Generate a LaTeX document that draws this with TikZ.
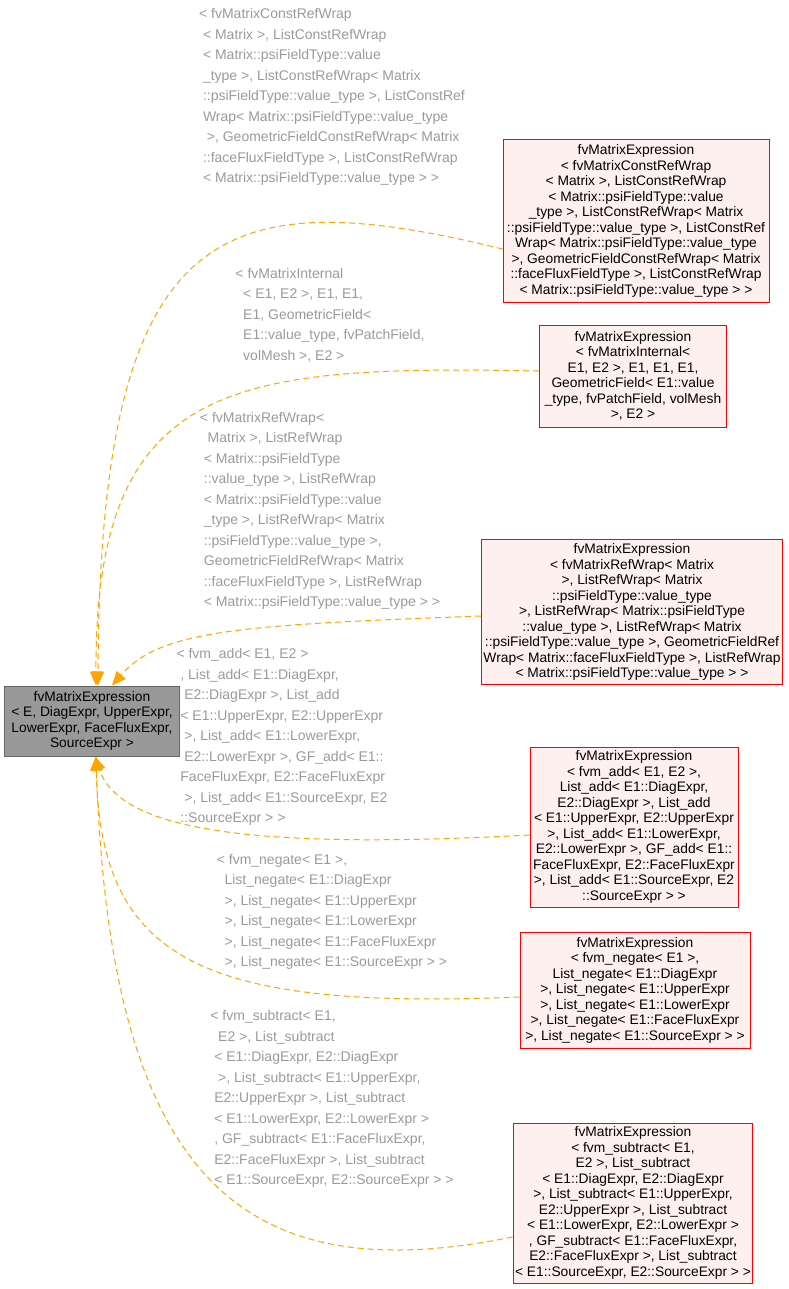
\documentclass[tikz,border=0pt]{standalone}
\usepackage{fontspec}
\setmainfont{Liberation Sans}
\usetikzlibrary{arrows.meta}
\definecolor{boxfill}{HTML}{FFF0F0}
\definecolor{mainfill}{HTML}{999999}
\definecolor{edgeorange}{HTML}{FFA500}
\definecolor{labelgray}{HTML}{9A9A9A}
\tikzset{
 exprbox/.style={draw=red,fill=boxfill,align=center,font=\fontsize{13.8}{15.5}\selectfont,inner sep=2pt,line width=1pt},
 mainbox/.style={draw=black!60,fill=mainfill,align=center,font=\fontsize{13.8}{15.5}\selectfont,inner sep=2pt,line width=1pt},
 edgelabel/.style={text=labelgray,align=left,font=\fontsize{14}{20.5}\selectfont},
 depedge/.style={draw=edgeorange,dashed,line width=1pt,dash pattern=on 6pt off 4pt,-{Triangle[length=14pt,width=12pt]}}
}
\begin{document}
\begin{tikzpicture}[x=1pt,y=-1pt]
 \useasboundingbox (0,0) rectangle (788,1289);
 % base node
 \node[mainbox,minimum width=175pt,minimum height=70pt] (main) at (92,721) {fvMatrixExpression\\< E, DiagExpr, UpperExpr,\\LowerExpr, FaceFluxExpr,\\SourceExpr >};
 % derived expressions
 \node[exprbox,minimum width=266pt,minimum height=162pt] (b1) at (636,221) {fvMatrixExpression\\< fvMatrixConstRefWrap\\< Matrix >, ListConstRefWrap\\< Matrix::psiFieldType::value\\\_type >, ListConstRefWrap< Matrix\\::psiFieldType::value\_type >, ListConstRef\\Wrap< Matrix::psiFieldType::value\_type\\ >, GeometricFieldConstRefWrap< Matrix\\::faceFluxFieldType >, ListConstRefWrap\\< Matrix::psiFieldType::value\_type > >};
 \node[exprbox,minimum width=187pt,minimum height=102pt] (b2) at (633,376) {fvMatrixExpression\\< fvMatrixInternal<\\ E1, E2 >, E1, E1, E1,\\ GeometricField< E1::value\\\_type, fvPatchField, volMesh\\ >, E2 >};
 \node[exprbox,minimum width=297pt,minimum height=145pt] (b3) at (632,612) {fvMatrixExpression\\< fvMatrixRefWrap< Matrix\\ >, ListRefWrap< Matrix\\::psiFieldType::value\_type\\ >, ListRefWrap< Matrix::psiFieldType\\::value\_type >, ListRefWrap< Matrix\\::psiFieldType::value\_type >, GeometricFieldRef\\Wrap< Matrix::faceFluxFieldType >, ListRefWrap\\< Matrix::psiFieldType::value\_type > >};
 \node[exprbox,minimum width=208pt,minimum height=160pt] (b4) at (634,827) {fvMatrixExpression\\< fvm\_add< E1, E2 >,\\ List\_add< E1::DiagExpr,\\ E2::DiagExpr >, List\_add\\< E1::UpperExpr, E2::UpperExpr\\ >, List\_add< E1::LowerExpr,\\ E2::LowerExpr >, GF\_add< E1::\\FaceFluxExpr, E2::FaceFluxExpr\\ >, List\_add< E1::SourceExpr, E2\\::SourceExpr > >};
 \node[exprbox,minimum width=230pt,minimum height=116pt] (b5) at (635,990) {fvMatrixExpression\\< fvm\_negate< E1 >,\\ List\_negate< E1::DiagExpr\\ >, List\_negate< E1::UpperExpr\\ >, List\_negate< E1::LowerExpr\\ >, List\_negate< E1::FaceFluxExpr\\ >, List\_negate< E1::SourceExpr > >};
 \node[exprbox,minimum width=235pt,minimum height=160pt] (b6) at (633,1203) {fvMatrixExpression\\< fvm\_subtract< E1,\\ E2 >, List\_subtract\\< E1::DiagExpr, E2::DiagExpr\\ >, List\_subtract< E1::UpperExpr,\\ E2::UpperExpr >, List\_subtract\\< E1::LowerExpr, E2::LowerExpr >\\, GF\_subtract< E1::FaceFluxExpr,\\ E2::FaceFluxExpr >, List\_subtract\\< E1::SourceExpr, E2::SourceExpr > >};
 % edge labels
 \node[edgelabel] (l1) at (332,97) {< fvMatrixConstRefWrap\\ \ < Matrix >, ListConstRefWrap\\ \ < Matrix::psiFieldType::value\\ \ \_type >, ListConstRefWrap< Matrix\\ \ ::psiFieldType::value\_type >, ListConstRef\\ \ Wrap< Matrix::psiFieldType::value\_type\\ \ \ >, GeometricFieldConstRefWrap< Matrix\\ \ ::faceFluxFieldType >, ListConstRefWrap\\ \ < Matrix::psiFieldType::value\_type > >};
 \node[edgelabel] (l2) at (330,315) {< fvMatrixInternal\\ \ \ < E1, E2 >, E1, E1,\\ \ \ E1, GeometricField<\\ \ \ E1::value\_type, fvPatchField,\\ \ \ volMesh >, E2 >};
 \node[edgelabel] (l3) at (320,511) {< fvMatrixRefWrap<\\ \ \ Matrix >, ListRefWrap\\ \ < Matrix::psiFieldType\\ \ ::value\_type >, ListRefWrap\\ \ < Matrix::psiFieldType::value\\ \ \_type >, ListRefWrap< Matrix\\ \ ::psiFieldType::value\_type >,\\ \ GeometricFieldRefWrap< Matrix\\ \ ::faceFluxFieldType >, ListRefWrap\\ \ < Matrix::psiFieldType::value\_type > >};
 \node[edgelabel] (l4) at (282,737) {< fvm\_add< E1, E2 >\\ \ , List\_add< E1::DiagExpr,\\ \ \ E2::DiagExpr >, List\_add\\ \ < E1::UpperExpr, E2::UpperExpr\\ \ \ >, List\_add< E1::LowerExpr,\\ \ \ E2::LowerExpr >, GF\_add< E1::\\ \ FaceFluxExpr, E2::FaceFluxExpr\\ \ \ >, List\_add< E1::SourceExpr, E2\\ \ ::SourceExpr > >};
 \node[edgelabel] (l5) at (332,912) {< fvm\_negate< E1 >,\\ \ \ List\_negate< E1::DiagExpr\\ \ \ >, List\_negate< E1::UpperExpr\\ \ \ >, List\_negate< E1::LowerExpr\\ \ \ >, List\_negate< E1::FaceFluxExpr\\ \ \ >, List\_negate< E1::SourceExpr > >};
 \node[edgelabel] (l6) at (332,1099) {< fvm\_subtract< E1,\\ \ \ E2 >, List\_subtract\\ \ < E1::DiagExpr, E2::DiagExpr\\ \ \ >, List\_subtract< E1::UpperExpr,\\ \ E2::UpperExpr >, List\_subtract\\ \ < E1::LowerExpr, E2::LowerExpr >\\ \ , GF\_subtract< E1::FaceFluxExpr,\\ \ E2::FaceFluxExpr >, List\_subtract\\ \ < E1::SourceExpr, E2::SourceExpr > >};
 % dependency edges
 \draw[depedge] ([yshift=-28pt]b1.west) .. controls (220,180) and (100,220) .. ([xshift=6pt]main.north);
 \draw[depedge] ([yshift=5pt]b2.west) .. controls (230,365) and (95,380) .. ([xshift=4pt]main.north);
 \draw[depedge] ([yshift=-4pt]b3.west) .. controls (240,625) and (160,630) .. ([xshift=20pt]main.north);
 \draw[depedge] ([yshift=-8pt]b4.west) .. controls (250,850) and (120,830) .. ([xshift=3pt]main.south);
 \draw[depedge] ([yshift=-7pt]b5.west) .. controls (200,1010) and (100,960) .. ([xshift=4pt]main.south);
 \draw[depedge] ([yshift=-34pt]b6.west) .. controls (250,1290) and (110,1190) .. ([xshift=4pt]main.south);
\end{tikzpicture}
\end{document}
